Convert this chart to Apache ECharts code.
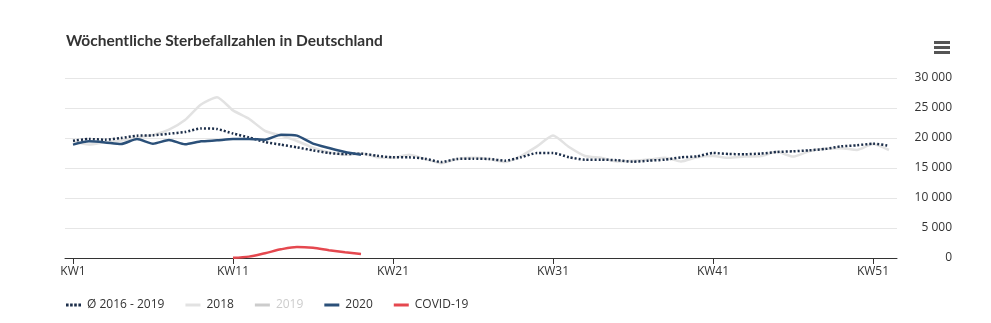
<!DOCTYPE html>
<html>
<head>
<meta charset="utf-8">
<script src="https://cdn.jsdelivr.net/npm/echarts@6/dist/echarts.min.js"></script>
<style>
html,body{margin:0;padding:0;background:#fff;}
#chart{width:991px;height:323px;}
</style>
</head>
<body>
<div id="chart"></div>
<script>
const weeks = [];
for (let i = 1; i <= 52; i++) weeks.push('KW' + i);

const yTicks = [0, 5000, 10000, 15000, 20000, 25000, 30000];

const avg2016_2019 = [19550, 19830, 19720, 20000, 20390, 20440, 20720, 21000, 21600, 21500,
  20750, 20100, 19330, 18890, 18440, 17940, 17500, 17330, 17390, 17050,
  16780, 16780, 16550, 16000, 16500, 16550, 16500, 16220, 16780, 17500,
  17500, 16800, 16390, 16390, 16300, 16050, 16220, 16390, 16780, 16940,
  17500, 17330, 17300, 17400, 17670, 17780, 17940, 18170, 18610, 18780,
  19050, 18720];

const y2018 = [19440, 18900, 19300, 19600, 20100, 20500, 21400, 23000, 25600, 26800,
  24600, 23200, 21200, 20400, 19500, 18400, 17600, 17200, 17400, 16800,
  16700, 17200, 16500, 15800, 16500, 16700, 16500, 16000, 17000, 18600,
  20400, 18500, 17000, 16700, 16100, 16200, 16400, 16700, 16100, 16800,
  17000, 16700, 16900, 17000, 17700, 16900, 17800, 18200, 18300, 18000,
  19000, 18000];

const y2019 = [19100, 19900, 19700, 19500, 19800, 19900, 20100, 19800, 19900, 19600,
  19200, 18900, 18500, 18300, 17900, 17600, 17400, 17300, 17100, 16900,
  16700, 16500, 16400, 16600, 16900, 16400, 17100, 16600, 16300, 16500,
  16200, 16300, 16100, 16200, 16000, 15900, 16100, 16300, 16500, 16800,
  17200, 17100, 17300, 17400, 17600, 17700, 17900, 18200, 18500, 18700,
  18900, 19300];

const y2020 = [18900, 19440, 19270, 19000, 19830, 19050, 19670, 18940, 19440, 19610,
  19830, 19830, 19720, 20550, 20390, 19050, 18330, 17660, 17220];

const covid = [null, null, null, null, null, null, null, null, null, null,
  40, 230, 800, 1450, 1850, 1700, 1300, 950, 650];

const legendNames = ['Ø 2016 - 2019', '2018', '2019', '2020', 'COVID-19'];

const chart = echarts.init(document.getElementById('chart'), null, {renderer: 'canvas'});
const FONT = 'Open Sans';

function fmt(v) {
  return String(v).replace(/\B(?=(\d{3})+(?!\d))/g, ' ');
}

const solidIcon = 'path://M0,0h15v3h-15z';
const dotIcon = 'path://M0,0h2.6v3h-2.6zM4.1,0h2.6v3h-2.6zM8.2,0h2.6v3h-2.6zM12.4,0h2.6v3h-2.6z';

chart.setOption({
  animation: false,
  backgroundColor: '#ffffff',
  title: {
    text: 'Wöchentliche Sterbefallzahlen in Deutschland',
    left: 61, top: 28,
    textStyle: {fontFamily: 'Lato', fontWeight: 'bold', fontSize: 15.5, color: '#333333'}
  },
  graphic: [
    {type: 'rect', left: 934, top: 41, shape: {width: 16, height: 3}, style: {fill: '#555'}},
    {type: 'rect', left: 934, top: 46, shape: {width: 16, height: 3}, style: {fill: '#555'}},
    {type: 'rect', left: 934, top: 51, shape: {width: 16, height: 3}, style: {fill: '#555'}}
  ],
  legend: {
    data: [
      {name: legendNames[0], icon: dotIcon, textStyle: {padding: [0, 4, 0, 1]}},
      {name: legendNames[1], icon: solidIcon},
      {name: legendNames[2], icon: solidIcon},
      {name: legendNames[3], icon: solidIcon},
      {name: legendNames[4], icon: solidIcon}
    ],
    left: 61, top: 294,
    itemWidth: 15, itemHeight: 3, itemGap: 21,
    selected: {'2019': false},
    inactiveColor: '#cccccc',
    textStyle: {fontFamily: FONT, fontSize: 12, color: '#333333', padding: [0, 0, 0, 1]}
  },
  grid: {left: 65, right: 94, top: 78, bottom: 65},
  xAxis: {
    type: 'category',
    data: weeks,
    boundaryGap: true,
    axisLine: {lineStyle: {color: '#333333', width: 1}},
    axisTick: {show: true, alignWithLabel: true, interval: 9, length: 6, lineStyle: {color: '#333333'}},
    axisLabel: {interval: 9, color: '#333333', fontFamily: FONT, fontSize: 12, margin: 8},
    splitLine: {show: false}
  },
  yAxis: {
    type: 'value',
    position: 'right',
    min: yTicks[0], max: yTicks[yTicks.length - 1], interval: 5000,
    axisLine: {show: false},
    axisTick: {show: false},
    axisLabel: {align: 'right', margin: 55, color: '#333333', fontFamily: FONT, fontSize: 12, formatter: fmt},
    splitLine: {lineStyle: {color: '#e6e6e6', width: 1}}
  },
  series: [
    {name: '2018', type: 'line', data: y2018, symbol: 'none', smooth: 0.2,
      lineStyle: {color: '#e2e2e2', width: 2.5}, itemStyle: {color: '#e2e2e2'}},
    {name: '2019', type: 'line', data: y2019, symbol: 'none', smooth: 0.2,
      lineStyle: {color: '#c8c8c8', width: 2.5}, itemStyle: {color: '#c8c8c8'}},
    {name: legendNames[0], type: 'line', data: avg2016_2019, symbol: 'none', smooth: 0.2,
      lineStyle: {color: '#1c2e4a', width: 2.5, type: [2, 2]}, itemStyle: {color: '#1c2e4a'}},
    {name: '2020', type: 'line', data: y2020, symbol: 'none', smooth: 0.2,
      lineStyle: {color: '#2b5079', width: 2.5}, itemStyle: {color: '#2b5079'}},
    {name: 'COVID-19', type: 'line', data: covid, symbol: 'none', smooth: 0.3,
      lineStyle: {color: '#e5484f', width: 2.5}, itemStyle: {color: '#e5484f'}}
  ]
});
</script>
</body>
</html>
